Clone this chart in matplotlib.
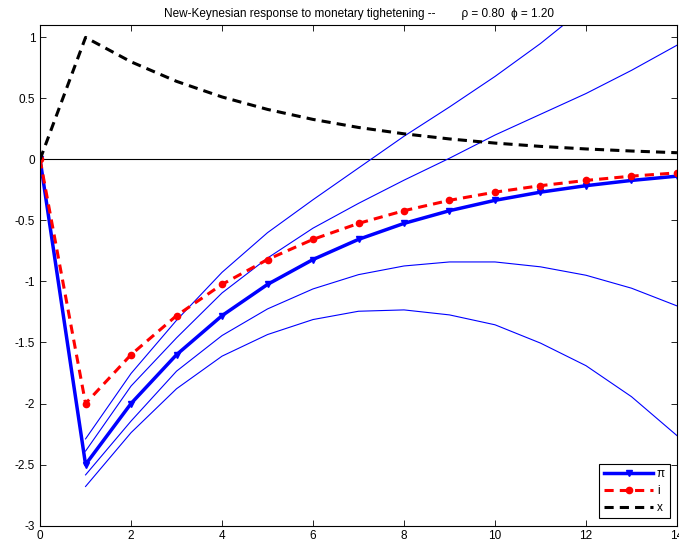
import numpy as np
import matplotlib
matplotlib.use('Agg')
import matplotlib.pyplot as plt

plt.rcParams['font.family'] = ['Liberation Sans', 'DejaVu Sans']

t = np.arange(15)
t_band = np.arange(1, 15)

pi_resp = [0, -2.5, -2.0, -1.6, -1.28, -1.024, -0.82, -0.655, -0.524, -0.42,
           -0.335, -0.268, -0.215, -0.172, -0.137]
i_resp = [0, -2.0, -1.6, -1.28, -1.024, -0.82, -0.655, -0.524, -0.42, -0.335,
          -0.268, -0.215, -0.172, -0.137, -0.11]
x_resp = [0, 1.0, 0.8, 0.64, 0.512, 0.41, 0.328, 0.262, 0.21, 0.168,
          0.134, 0.107, 0.086, 0.069, 0.055]

# thin blue lines (start at t=1)
band_a = [-2.29, -1.754, -1.318, -0.925, -0.60, -0.33, -0.07, 0.19, 0.43,
          0.68, 0.95, 1.25, 1.57, 1.92]
band_b = [-2.39, -1.857, -1.462, -1.094, -0.808, -0.563, -0.36, -0.17, 0.01,
          0.2, 0.37, 0.54, 0.73, 0.936]
band_c = [-2.585, -2.144, -1.735, -1.443, -1.225, -1.061, -0.944, -0.873,
          -0.84, -0.84, -0.88, -0.949, -1.055, -1.2]
band_d = [-2.68, -2.239, -1.879, -1.612, -1.435, -1.312, -1.244, -1.233,
          -1.274, -1.355, -1.505, -1.69, -1.944, -2.263]

fig = plt.figure(figsize=(6.79, 5.48), dpi=100)
ax = fig.add_axes([0.059, 0.041, 0.938, 0.913])

ax.plot([0, 14], [0, 0], color='black', lw=0.8)
for b in (band_a, band_b, band_c, band_d):
    ax.plot(t_band, b, color='blue', lw=0.8)

ax.plot(t, pi_resp, color='blue', lw=2.5, marker='v', ms=4.5, label='π')
ax.plot(t, i_resp, color='red', lw=2.2, ls=(0, (3, 2)), marker='o', ms=4.5,
        label='i')
ax.plot(t, x_resp, color='black', lw=2.2, ls=(0, (3, 2)), label='x')

ax.set_xlim(0, 14)
ax.set_ylim(-3, 1.1)
ax.set_xticks(range(0, 15, 2))
ax.set_yticks(np.arange(-3, 1.01, 0.5))
ax.set_yticklabels(['-3', '-2.5', '-2', '-1.5', '-1', '-0.5', '0', '0.5', '1'])
ax.tick_params(direction='in', top=True, right=True, labelsize=8.5,
               length=4, width=0.6)
for s in ax.spines.values():
    s.set_linewidth(0.8)

ax.set_title('New-Keynesian response to monetary tighetening --        '
             'ρ = 0.80  ϕ = 1.20', fontsize=8.5, pad=6)

leg = ax.legend(loc='lower right', fontsize=8.5, fancybox=False,
                framealpha=1, edgecolor='black', handlelength=4.2,
                borderaxespad=0.6, labelspacing=0.4, handletextpad=0.3)
leg.get_frame().set_linewidth(0.8)

fig.savefig('out.png', dpi=100)
